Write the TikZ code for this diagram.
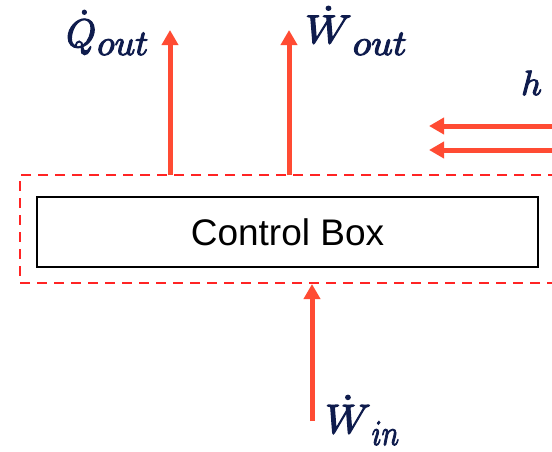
\documentclass[tikz,border=0pt]{standalone}
\usepackage{graphicx}
\usepackage{fontspec}
\setsansfont{Liberation Sans}
\usetikzlibrary{arrows.meta}
\definecolor{arr}{HTML}{FF4B33}
\definecolor{dsh}{HTML}{FF2424}
\definecolor{navy}{HTML}{0F1C4D}
\newcommand{\heavyon}{\special{pdf:literal direct 2 Tr 0.28 w 0.059 0.11 0.302 RG}}
\newcommand{\heavyoff}{\special{pdf:literal direct 0 Tr}}
% #1 main symbol, #2 main x-scale, #3 main y-scale, #4 subscript, #5 sub x-scale, #6 sub y-scale, #7 drop
\newcommand{\flowlbl}[7]{\scalebox{#2}[#3]{\heavyon$\dot{#1}$\heavyoff}\kern1pt\raisebox{-#7pt}{\scalebox{#5}[#6]{\heavyon$#4$\heavyoff}}}
\tikzset{
  flow/.style={draw=arr, line width=5pt, -{Triangle[width=16pt,length=15pt]}},
  lbl/.style={text=navy, inner sep=0pt, anchor=base west},
  cbox/.style={draw=black, line width=1.8pt, minimum width=501pt, minimum height=70pt, font=\sffamily\fontsize{37}{40}\selectfont, inner sep=0pt},
  cvol/.style={draw=dsh, line width=2.5pt, dash pattern=on 10pt off 7pt}
}
\begin{document}
\begin{tikzpicture}[x=1pt,y=-1pt]
\clip (0,0) rectangle (552,451);
\fill[white] (0,0) rectangle (552,451);
% control volume (dashed, open to the right beyond the frame)
\draw[cvol] (575,175) -- (20,175) -- (20,283) -- (575,283);
\node[cbox] (cb) at (287.5,232) {Control Box};
% boundary points
\coordinate (q0) at (170,175);
\coordinate (q1) at (170,30);
\coordinate (w0) at (289,175);
\coordinate (w1) at (289,30);
\coordinate (i0) at (312,421);
\coordinate (i1) at (312,284);
\coordinate (h0) at (560,126);
\coordinate (h1) at (429,126);
\coordinate (g0) at (560,150);
\coordinate (g1) at (429,150);
\draw[flow] (q0) -- (q1);
\draw[flow] (w0) -- (w1);
\draw[flow] (i0) -- (i1);
\draw[flow] (h0) -- (h1);
\draw[flow] (g0) -- (g1);
% labels
\node[lbl] (lq) at (66,47) {\flowlbl{Q}{3.8}{4.0}{out}{3.6}{3.6}{8}};
\node[lbl] (lw) at (305,43) {\flowlbl{W}{4.3}{4.0}{out}{3.8}{3.6}{12}};
\node[lbl] (li) at (325,433) {\flowlbl{W}{4.2}{4.1}{in}{2.9}{3.6}{12}};
\node[lbl] (lh) at (521,95) {\scalebox{3.6}[3.5]{\heavyon$h$\heavyoff}};
\end{tikzpicture}
\end{document}
